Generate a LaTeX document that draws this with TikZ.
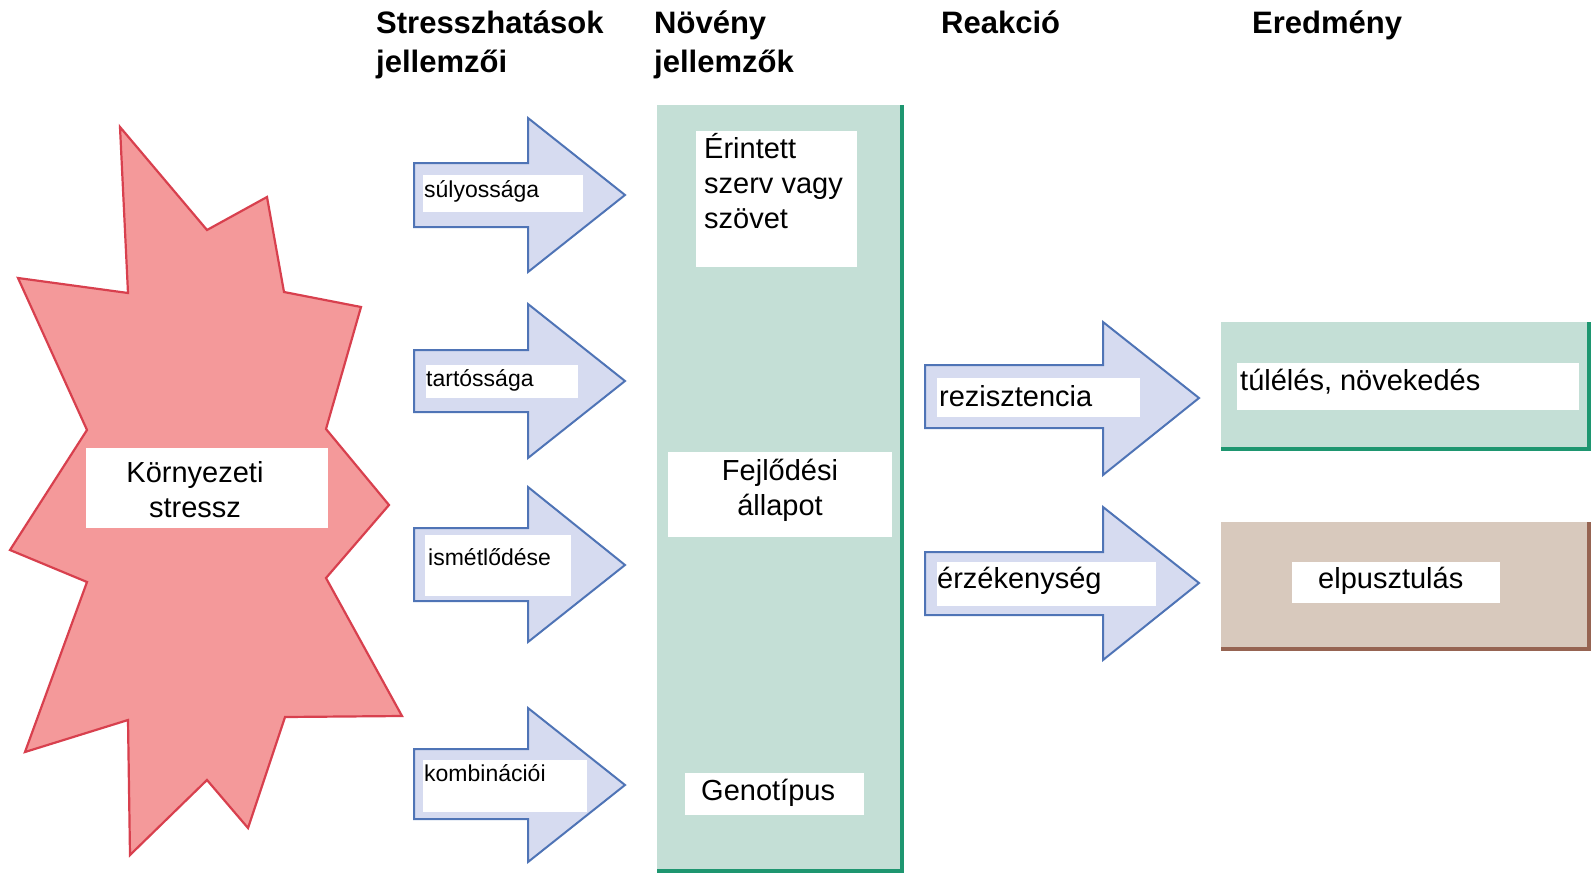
\documentclass[tikz,border=0pt]{standalone}
\usepackage{fontspec}
\setmainfont{Liberation Sans}
\definecolor{starfill}{RGB}{244,153,154}
\definecolor{starline}{RGB}{216,64,78}
\definecolor{arrfill}{RGB}{214,219,240}
\definecolor{arrline}{RGB}{79,116,182}
\definecolor{mint}{RGB}{196,223,214}
\definecolor{dkgreen}{RGB}{30,150,112}
\definecolor{beige}{RGB}{216,201,189}
\definecolor{brownline}{RGB}{150,100,82}
\begin{document}
\begin{tikzpicture}[x=1pt,y=-1pt,
  starshape/.style={fill=starfill,draw=starline,line width=2.2pt,line join=miter},
  barrow/.style={fill=arrfill,draw=arrline,line width=2pt,line join=miter},
  wbox/.style={fill=white},
  big/.style={font=\fontsize{29}{35}\selectfont,inner sep=0pt},
  small/.style={font=\fontsize{23}{28}\selectfont,inner sep=0pt},
  head/.style={font=\fontsize{31}{38.5}\selectfont\bfseries,inner sep=0pt,align=left}]
\useasboundingbox (0,0) rectangle (1594,875);
% star
\draw[starshape] (120,127) -- (207,230) -- (267,197) -- (284,292) -- (361,307) -- (326,429)
  -- (389,505) -- (326,578) -- (402,716) -- (285,717) -- (248,828) -- (207,780)
  -- (130,855) -- (128,720) -- (25,752) -- (87,582) -- (10,550) -- (87,430)
  -- (18,278) -- (128,293) -- cycle;
% stress arrows
\draw[barrow] (414,163) -- (528,163) -- (528,118) -- (625,195) -- (528,272) -- (528,227) -- (414,227) -- cycle;
\draw[barrow] (414,350) -- (528,350) -- (528,304) -- (625,381) -- (528,458) -- (528,412) -- (414,412) -- cycle;
\draw[barrow] (414,528) -- (528,528) -- (528,487) -- (625,565) -- (528,642) -- (528,601) -- (414,601) -- cycle;
\draw[barrow] (414,749) -- (528,749) -- (528,708) -- (625,785) -- (528,862) -- (528,819) -- (414,819) -- cycle;
% reaction arrows
\draw[barrow] (925,365) -- (1103,365) -- (1103,322) -- (1199,398) -- (1103,475) -- (1103,428) -- (925,428) -- cycle;
\draw[barrow] (925,552) -- (1103,552) -- (1103,507) -- (1199,583) -- (1103,660) -- (1103,615) -- (925,615) -- cycle;
% plant column
\fill[mint] (657,105) rectangle (903,872);
\draw[dkgreen,line width=3.5pt] (657,871) -- (902,871) -- (902,105);
% result boxes
\fill[mint] (1221,322) rectangle (1591,451);
\draw[dkgreen,line width=4pt] (1221,449) -- (1589,449) -- (1589,322);
\fill[beige] (1221,522) rectangle (1591,651);
\draw[brownline,line width=4pt] (1221,649) -- (1589,649) -- (1589,522);
% white label boxes
\fill[wbox] (86,448) rectangle (328,528);
\fill[wbox] (696,131) rectangle (857,267);
\fill[wbox] (668,452) rectangle (892,537);
\fill[wbox] (685,773) rectangle (864,815);
\fill[wbox] (423,175) rectangle (583,212);
\fill[wbox] (426,365) rectangle (578,398);
\fill[wbox] (425,535) rectangle (571,596);
\fill[wbox] (423,760) rectangle (587,812);
\fill[wbox] (937,378) rectangle (1140,417);
\fill[wbox] (937,562) rectangle (1156,606);
\fill[wbox] (1237,363) rectangle (1579,410);
\fill[wbox] (1292,562) rectangle (1500,603);
% headings (base anchor = baseline of last line)
\node[head,anchor=base west] (h1) at (376,72) {Stresszhatások\\jellemzői};
\node[head,anchor=base west] (h2) at (654,72) {Növény\\jellemzők};
\node[head,anchor=base west] (h3) at (941,34) {Reakció};
\node[head,anchor=base west] (h4) at (1252,34) {Eredmény};
% texts
\node[big,align=center,anchor=base] (stress) at (195,517) {Környezeti\\stressz};
\node[big,align=left,anchor=base west] (organ) at (704,228) {Érintett\\szerv vagy\\szövet};
\node[big,align=center,anchor=base] (devel) at (780,515) {Fejlődési\\állapot};
\node[big,anchor=base west] (geno) at (701,800) {Genotípus};
\node[small,anchor=base west] (s1) at (424,197) {súlyossága};
\node[small,anchor=base west] (s2) at (426,386) {tartóssága};
\node[small,anchor=base west] (s3) at (428,565) {ismétlődése};
\node[small,anchor=base west] (s4) at (424,781) {kombinációi};
\node[big,anchor=base west] (r1) at (939,406) {rezisztencia};
\node[big,anchor=base west] (r2) at (937,588) {érzékenység};
\node[big,anchor=base west] (e1) at (1240,390) {túlélés, növekedés};
\node[big,anchor=base west] (e2) at (1318,588) {elpusztulás};
\end{tikzpicture}
\end{document}
